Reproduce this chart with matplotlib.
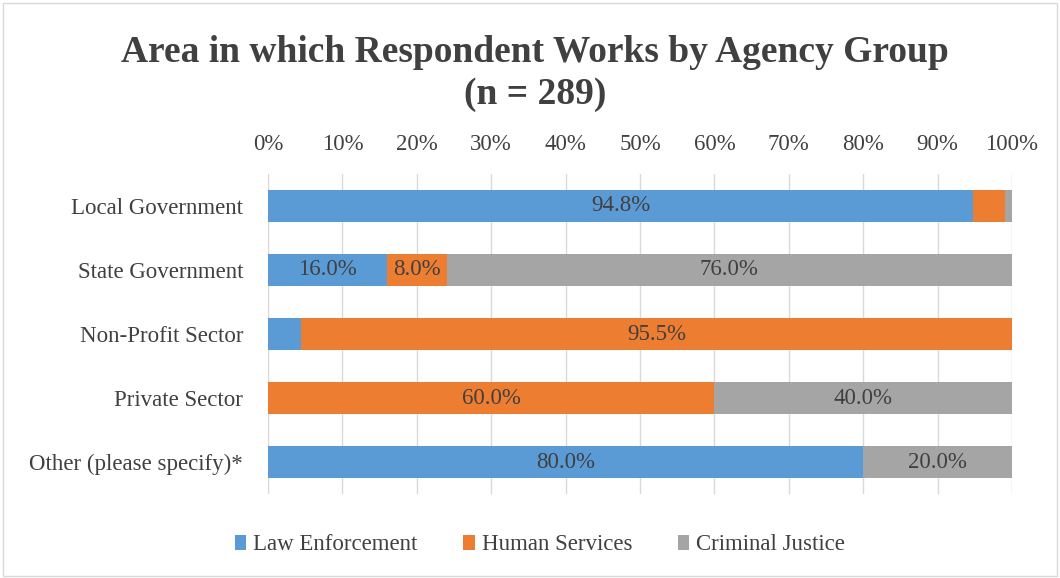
import matplotlib
matplotlib.use("Agg")
import matplotlib.pyplot as plt
import numpy as np

plt.rcParams["font.family"] = ["Liberation Serif", "DejaVu Serif"]

categories = ["Local Government", "State Government", "Non-Profit Sector",
              "Private Sector", "Other (please specify)*"]
law_enforcement = [94.8, 16.0, 4.5, 0.0, 80.0]
human_services = [4.3, 8.0, 95.5, 60.0, 0.0]
criminal_justice = [0.9, 76.0, 0.0, 40.0, 20.0]
series_names = ["Law Enforcement", "Human Services", "Criminal Justice"]
colors = ["#5b9bd5", "#ed7d31", "#a5a5a5"]
label_min = 5.0

fig = plt.figure(figsize=(10.6, 5.78), dpi=100)
ax = fig.add_axes([268 / 1060, 1 - 494 / 578, 744 / 1060, 320 / 578])

y = np.arange(len(categories))
left = np.zeros(len(categories))
for name, vals, c in zip(series_names, [law_enforcement, human_services, criminal_justice], colors):
    vals = np.array(vals)
    bars = ax.barh(y, vals, left=left, height=0.5, color=c, label=name, zorder=3)
    for b, v in zip(bars, vals):
        if v >= label_min:
            ax.text(b.get_x() + b.get_width() / 2, b.get_y() + b.get_height() / 2,
                    f"{v:.1f}%", ha="center", va="center", fontsize=16.5,
                    color="#404040", zorder=4)
    left += vals

ax.set_xlim(0, 100)
ax.set_ylim(len(categories) - 0.5, -0.5)
ax.set_yticks(y)
ax.set_yticklabels(categories, fontsize=16.5, color="#404040")
ax.set_xticks(np.arange(0, 101, 10))
ax.set_xticklabels([f"{t}%" for t in range(0, 101, 10)], fontsize=16.5, color="#404040")
ax.xaxis.tick_top()
ax.tick_params(length=0, pad=14)
ax.tick_params(axis="y", pad=18)
ax.grid(axis="x", color="#d9d9d9", lw=1, zorder=0)
for s in ax.spines.values():
    s.set_visible(False)

fig.text(535 / 1060, 1 - 52 / 578, "Area in which Respondent Works by Agency Group",
         ha="center", va="center", fontsize=27, fontweight="bold", color="#404040")
fig.text(535 / 1060, 1 - 95 / 578, "(n = 289)",
         ha="center", va="center", fontsize=27, fontweight="bold", color="#404040")

fig.legend(loc="center", bbox_to_anchor=(540 / 1060, 1 - 545 / 578), ncol=3,
           frameon=False, fontsize=16.5, handlelength=0.5, handleheight=0.6,
           handletextpad=0.3, columnspacing=2.0, labelcolor="#404040")

fig.patches.append(plt.Rectangle((0.003, 0.003), 0.994, 0.992, transform=fig.transFigure,
                                 fill=False, edgecolor="#d9d9d9", lw=1))
fig.savefig("out.png", dpi=100)
